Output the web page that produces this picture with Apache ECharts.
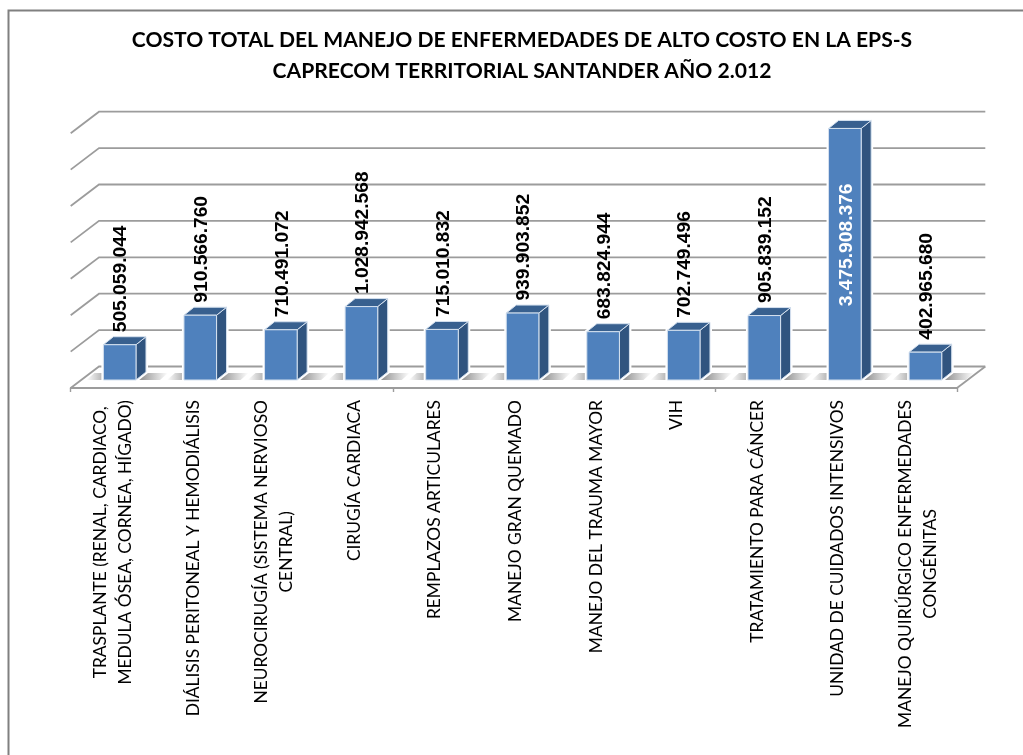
<!DOCTYPE html>
<html>
<head>
<meta charset="utf-8">
<style>html,body{margin:0;padding:0;background:#fff}#c{width:1023px;height:755px}</style>
<script src="https://cdn.jsdelivr.net/npm/echarts@6/dist/echarts.min.js"></script>
</head>
<body>
<div id="c"></div>
<script>
var categories = [
  "TRASPLANTE (RENAL, CARDIACO,\nMEDULA ÓSEA, CORNEA, HÍGADO)",
  "DIÁLISIS PERITONEAL Y HEMODIÁLISIS",
  "NEUROCIRUGÍA (SISTEMA NERVIOSO\nCENTRAL)",
  "CIRUGÍA CARDIACA",
  "REMPLAZOS ARTICULARES",
  "MANEJO GRAN QUEMADO",
  "MANEJO DEL TRAUMA MAYOR",
  "VIH",
  "TRATAMIENTO PARA CÁNCER",
  "UNIDAD DE CUIDADOS INTENSIVOS",
  "MANEJO QUIRÚRGICO ENFERMEDADES\nCONGÉNITAS"
];
var values = [505059044, 910566760, 710491072, 1028942568, 715010832, 939903852, 683824944, 702749496, 905839152, 3475908376, 402965680];
var labels = ["505.059.044","910.566.760","710.491.072","1.028.942.568","715.010.832","939.903.852","683.824.944","702.749.496","905.839.152","3.475.908.376","402.965.680"];
var gridValues = [0, 500000000, 1000000000, 1500000000, 2000000000, 2500000000, 3000000000, 3500000000];
var titleText = "COSTO TOTAL DEL MANEJO DE ENFERMEDADES DE ALTO COSTO EN LA EPS-S\nCAPRECOM TERRITORIAL SANTANDER AÑO 2.012";

var DX = 28.3, DY = 21.5;          // full depth of the 3D box
var BAR_OX = 8.7, BAR_OY = 8, BAR_TOP_TRIM = 1.5; // bar front-face offset from the front plane
var BAR_W = 32.6, SIDE_X = 10, SIDE_Y = 8;
var CAT_FONT = '400 17.4px Lato', VAL_FONT = '700 19.2px "Liberation Sans"';
var TEXT_NUDGE = 1.5;
var INSIDE_FROM = 3000000000;
var G = echarts.graphic;

var chart = echarts.init(document.getElementById('c'), null, {renderer: 'canvas'});

var ctx = document.createElement('canvas').getContext('2d');
function blockWidth(txt) {
  ctx.font = CAT_FONT;
  return Math.max.apply(null, txt.split('\n').map(function (s) { return ctx.measureText(s).width; }));
}

function renderGrid(params, api) {
  var cs = params.coordSys;
  var y = api.coord([0, api.value(1)])[1];
  var x0 = cs.x, x1 = cs.x + cs.width;
  var style = {stroke: '#9c9c9c', lineWidth: 1.8, fill: null};
  var kids = [{type: 'polyline', shape: {points: [[x0, y], [x0 + DX, y - DY], [x1 + DX, y - DY]]}, style: style}];
  if (api.value(1) === 0) {
    kids.push({type: 'line', shape: {x1: x1, y1: y, x2: x1 + DX, y2: y - DY}, style: style});
  }
  return {type: 'group', children: kids};
}

function renderBar(params, api) {
  var p = api.coord([api.value(0), api.value(1)]);
  var b = api.coord([api.value(0), 0]);
  var xc = p[0] + BAR_OX, l = xc - BAR_W / 2, r = xc + BAR_W / 2;
  var t = p[1] - BAR_OY + BAR_TOP_TRIM, f = b[1] - BAR_OY;
  var edge = {stroke: '#d5e1ef', lineWidth: 1};
  var sy = f - 7, sb = f;
  function grad(a, c, stops) { return new G.LinearGradient(a, 0, c, 0, stops, true); }
  return {type: 'group', children: [
    {type: 'polygon', shape: {points: [[l - 17, sb], [l - 9, sy], [l, sy], [l, sb]]},
      style: {fill: grad(l - 17, l, [{offset: 0, color: '#ffffff'}, {offset: 1, color: '#b0b0b0'}])}},
    {type: 'polygon', shape: {points: [[r, sb], [r + 9, sy], [r + 32, sy], [r + 24, sb]]},
      style: {fill: grad(r + 6, r + 32, [{offset: 0, color: '#9a9a9a'}, {offset: 1, color: '#ffffff'}])}},
    {type: 'polygon', shape: {points: [[l, f], [l, t], [l + SIDE_X, t - SIDE_Y], [r + SIDE_X, t - SIDE_Y], [r + SIDE_X, f - SIDE_Y], [r, f]]},
      style: {fill: '#fff', stroke: '#fff', lineWidth: 4}},
    {type: 'polygon', shape: {points: [[r, f], [r, t], [r + SIDE_X, t - SIDE_Y], [r + SIDE_X, f - SIDE_Y]]},
      style: Object.assign({fill: '#30547f'}, edge)},
    {type: 'polygon', shape: {points: [[l, t], [l + SIDE_X, t - SIDE_Y], [r + SIDE_X, t - SIDE_Y], [r, t]]},
      style: Object.assign({fill: '#38608f'}, edge)},
    {type: 'rect', shape: {x: l, y: t, width: BAR_W, height: f - t},
      style: Object.assign({fill: '#4f81bd'}, edge)}
  ]};
}

function renderValue(params, api) {
  var v = api.value(1);
  var p = api.coord([api.value(0), v]);
  var xc = p[0] + BAR_OX + TEXT_NUDGE;
  var inside = v >= INSIDE_FROM;
  var top = p[1] - BAR_OY + BAR_TOP_TRIM;
  var y = inside ? (top + api.coord([0, 0])[1] - BAR_OY) / 2 + 52 : top - SIDE_Y - 4.5;
  return {type: 'text', x: xc, y: y, rotation: Math.PI / 2,
    style: {text: labels[params.dataIndex], font: VAL_FONT, fill: inside ? '#ffffff' : '#000000', align: 'left', verticalAlign: 'middle'}};
}

function renderCategory(params, api) {
  var txt = categories[params.dataIndex];
  var x = api.coord([api.value(0), 0])[0] + TEXT_NUDGE;
  var y0 = api.coord([0, 0])[1] + 12;
  return {type: 'text', x: x, y: y0 + blockWidth(txt) / 2, rotation: Math.PI / 2,
    style: {text: txt, font: CAT_FONT, lineHeight: 25, fill: '#000000', align: 'center', verticalAlign: 'middle'}};
}

var pts = values.map(function (v, i) { return [i, v]; });

chart.setOption({
  animation: false,
  backgroundColor: '#ffffff',
  title: {
    text: titleText, left: 517, top: 20, textAlign: 'center',
    textStyle: {fontFamily: 'Lato', fontWeight: 700, fontSize: 21.1, lineHeight: 31, color: '#000'}
  },
  graphic: [
    {type: 'polyline', silent: true, shape: {points: [[8.5, 755], [8.5, 10.5], [1023, 10.5]]}, style: {stroke: '#808080', lineWidth: 2, fill: null}}
  ],
  grid: {left: 70.7, top: 133.2, width: 886.3, height: 254.8},
  xAxis: {
    type: 'category', data: categories, boundaryGap: true,
    axisLine: {show: true, lineStyle: {color: '#9c9c9c', width: 1.8}},
    axisTick: {show: true, length: 4, alignWithLabel: false, lineStyle: {color: '#9c9c9c', width: 1.4}},
    axisLabel: {show: false}, splitLine: {show: false}
  },
  yAxis: {type: 'value', min: 0, max: 3500000000, interval: 500000000, show: false, splitLine: {show: false}},
  series: [
    {type: 'custom', silent: true, clip: false, z: 1, renderItem: renderGrid, data: gridValues.map(function (v) { return [0, v]; }), encode: {x: 0, y: 1}},
    {type: 'custom', silent: true, clip: false, z: 2, renderItem: renderBar, data: pts, encode: {x: 0, y: 1}},
    {type: 'custom', silent: true, clip: false, z: 3, renderItem: renderValue, data: pts, encode: {x: 0, y: 1}},
    {type: 'custom', silent: true, clip: false, z: 3, renderItem: renderCategory, data: pts, encode: {x: 0, y: 1}}
  ]
});
</script>
</body>
</html>
